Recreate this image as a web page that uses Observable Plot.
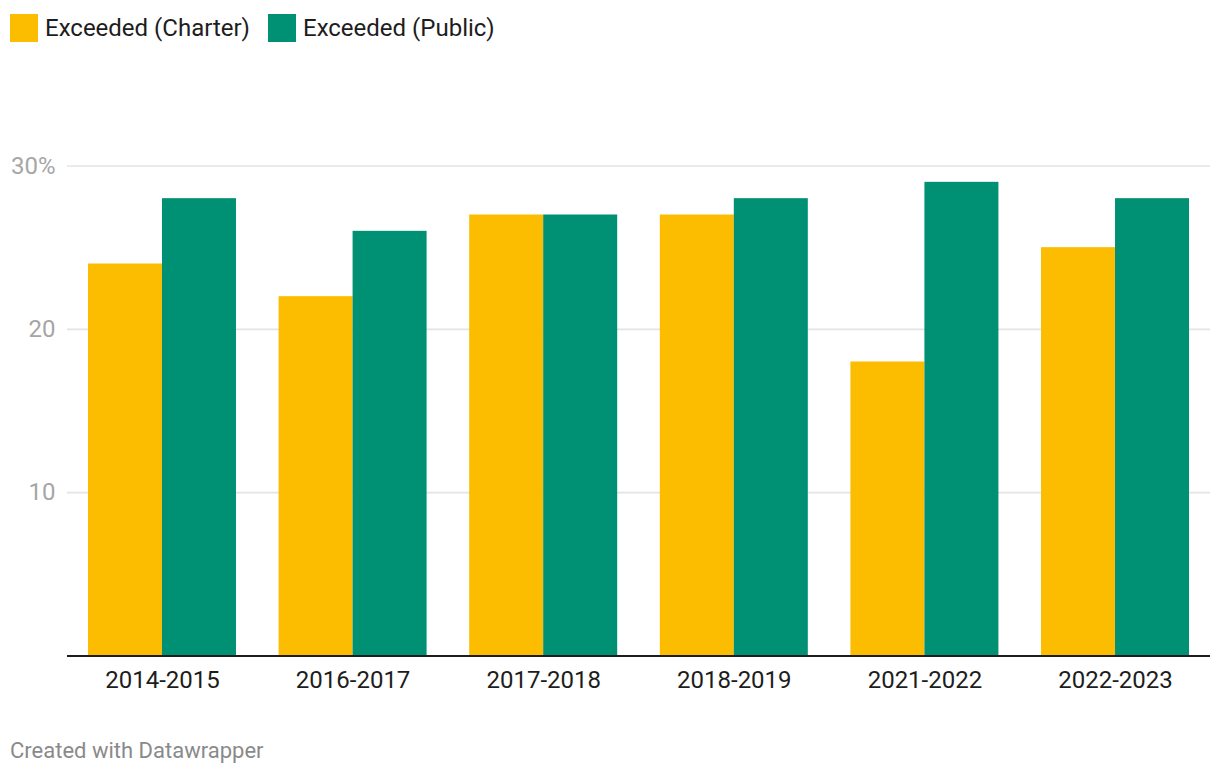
<!DOCTYPE html>
<html>
<head>
<meta charset="utf-8">
<script src="https://cdn.jsdelivr.net/npm/d3@7"></script>
<script src="https://cdn.jsdelivr.net/npm/@observablehq/plot@0.6"></script>
<style>
  html, body { margin: 0; padding: 0; background: #fff; }
  body { font-family: Roboto, "Noto Sans", sans-serif; width: 1220px; height: 776px; position: relative; overflow: hidden; }
  #legend { position: absolute; left: 10px; top: 14px; height: 28px; display: flex; align-items: center; font-size: 24px; color: #1d1d1d; }
  .item { display: flex; align-items: center; margin-right: 18px; }
  .sw { width: 28px; height: 28px; margin-right: 7px; }
  #chart { position: absolute; left: 0; top: 60px; }
  #caption { position: absolute; left: 10px; top: 738px; font-size: 22px; color: #8a8a8a; }
</style>
</head>
<body>
<div id="legend"></div>
<div id="chart"></div>
<div id="caption">Created with Datawrapper</div>
<script>
const years = ["2014-2015", "2016-2017", "2017-2018", "2018-2019", "2021-2022", "2022-2023"];
const charter = [24, 22, 27, 27, 18, 25];
const publicSchools = [28, 26, 27, 28, 29, 28];
const seriesNames = ["Exceeded (Charter)", "Exceeded (Public)"];
const seriesColors = ["#fcbc00", "#009073"];
const yTicks = [10, 20, 30];

const charterData = years.map((y, i) => ({year: y, value: charter[i]}));
const publicData = years.map((y, i) => ({year: y, value: publicSchools[i]}));

// legend
const legend = document.getElementById("legend");
seriesNames.forEach((name, i) => {
  const it = document.createElement("div");
  it.className = "item";
  const sw = document.createElement("div");
  sw.className = "sw";
  sw.style.background = seriesColors[i];
  const tx = document.createElement("span");
  tx.textContent = name;
  it.appendChild(sw); it.appendChild(tx);
  legend.appendChild(it);
});

const W = 1220, H = 650, mL = 67, mR = 10;
const pInner = 0.2235, pOuter = 0.11;
const step = (W - mL - mR) / (years.length - pInner + 2 * pOuter);
const half = step * (1 - pInner) / 2;

const chart = Plot.plot({
  width: W,
  height: H,
  marginLeft: mL,
  marginRight: mR,
  marginTop: 105.5,
  marginBottom: 54.5,
  style: {fontFamily: "Roboto, sans-serif", background: "transparent"},
  x: {domain: years, paddingInner: pInner, paddingOuter: pOuter, round: false, axis: null},
  y: {domain: [0, 30], axis: null},
  marks: [
    Plot.gridY(yTicks, {stroke: "#e4e4e4", strokeOpacity: 1, strokeWidth: 1.6}),
    Plot.barY(charterData, {x: "year", y: "value", fill: seriesColors[0], insetLeft: 0, insetRight: half}),
    Plot.barY(publicData, {x: "year", y: "value", fill: seriesColors[1], insetLeft: half, insetRight: 0}),
    Plot.ruleY([0], {stroke: "#1d1d1d", strokeWidth: 2}),
    Plot.axisY(yTicks, {tickSize: 0, tickPadding: 12, fontSize: 24, fill: "#a6a6a6",
      tickFormat: d => d === 30 ? "30%" : String(d), label: null}),
    Plot.axisX({tickSize: 0, tickPadding: 15, fontSize: 24, fill: "#1d1d1d", label: null})
  ]
});
document.getElementById("chart").appendChild(chart);
</script>
</body>
</html>
